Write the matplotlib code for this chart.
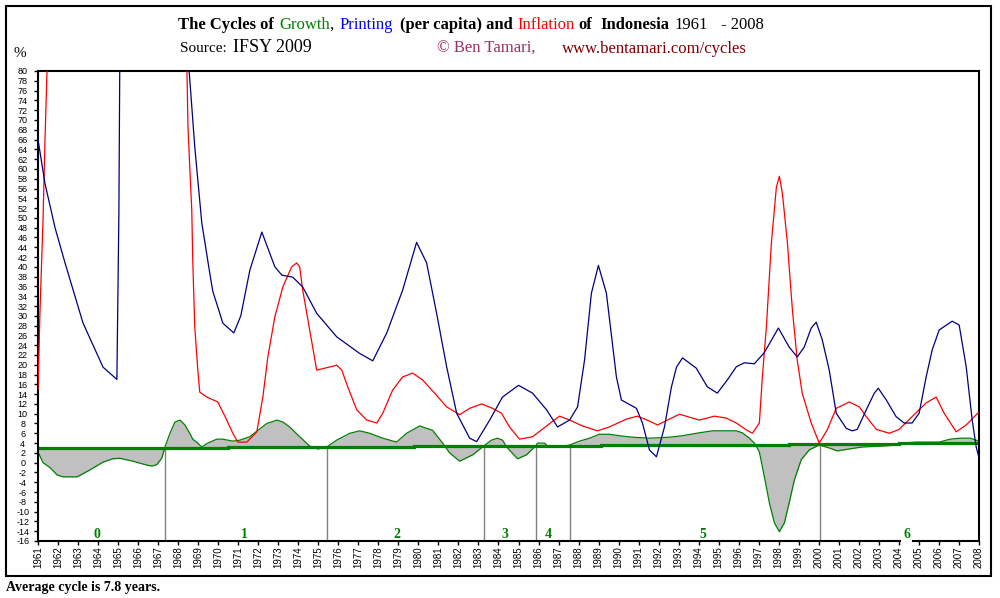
import numpy as np
import matplotlib
matplotlib.use("Agg")
import matplotlib.pyplot as plt
from matplotlib.patches import Rectangle

# Printing (money per capita), % -- values above 80 are off the chart
blue_x = [1961.00, 1961.35, 1961.85, 1962.35, 1963.25, 1964.25, 1964.94, 1965.04, 1965.09,
          1965.5, 1966.5, 1967.5, 1968.2, 1968.55, 1968.83, 1969.18, 1969.58, 1969.73,
          1970.08, 1970.23, 1970.78, 1971.13, 1971.58, 1972.18, 1972.83, 1973.18, 1973.72,
          1974.22, 1974.92, 1975.92, 1977.07, 1977.72, 1978.42, 1979.21, 1979.91, 1980.41,
          1980.91, 1981.41, 1981.91, 1982.56, 1982.91, 1983.56, 1984.20, 1985.00, 1985.70,
          1986.40, 1986.95, 1987.55, 1987.95, 1988.30, 1988.64, 1988.99, 1989.39, 1989.89,
          1990.14, 1990.89, 1991.19, 1991.54, 1991.89, 1992.29, 1992.64, 1992.89, 1993.19,
          1993.88, 1994.43, 1994.93, 1995.43, 1995.88, 1996.28, 1996.78, 1997.28, 1997.98,
          1998.52, 1998.92, 1999.27, 1999.62, 1999.87, 2000.17, 2000.52, 2000.87, 2001.37,
          2001.67, 2001.92, 2002.37, 2002.77, 2002.97, 2003.37, 2003.86, 2004.26, 2004.66,
          2005.01, 2005.36, 2005.66, 2006.01, 2006.66, 2007.01, 2007.36, 2007.66, 2007.86,
          2008.00]
blue_y = [66, 57, 48, 40.8, 28.5, 19.5, 17, 51, 85,
          200, 300, 250, 120, 80, 64.5, 49, 38.7, 35,
          30.5, 28.5, 26.5, 30, 39.3, 47.1, 40, 38.3, 37.9,
          35.9, 30.5, 25.7, 22.3, 20.8, 26.5, 35.2, 45, 40.8,
          30.5, 19.6, 10.1, 5.0, 4.3, 8.7, 13.4, 15.8, 14.2,
          10.8, 7.3, 8.7, 11.4, 21, 34.6, 40.3, 34.6, 17.5,
          12.8, 11.1, 8.1, 2.6, 1.2, 7.3, 15.5, 19.5, 21.4,
          19.3, 15.5, 14.2, 16.9, 19.6, 20.4, 20.2, 22.5, 27.5,
          23.6, 21.6, 23.6, 27.5, 28.7, 25.1, 18.9, 10.1, 7.0,
          6.5, 6.8, 10.8, 14.2, 15.2, 12.8, 9.4, 8.1, 8.1,
          10.1, 17.5, 23, 27.1, 28.9, 28.1, 19.6, 8.7, 3.2,
          1.0]

# Inflation, %
red_x = [1961.00, 1961.10, 1961.25, 1961.35, 1961.45, 1962, 1963, 1964, 1965, 1966, 1967,
         1968, 1968.44, 1968.49, 1968.58, 1968.68, 1968.73, 1968.83, 1968.98, 1969.08,
         1969.43, 1969.98, 1970.43, 1970.73, 1970.98, 1971.43, 1971.93, 1972.23, 1972.48,
         1972.83, 1973.23, 1973.67, 1973.92, 1974.07, 1974.22, 1974.57, 1974.92, 1975.32,
         1975.92, 1976.17, 1976.47, 1976.92, 1977.42, 1977.92, 1978.22, 1978.71, 1979.21,
         1979.71, 1980.21, 1980.81, 1981.41, 1982.06, 1982.56, 1983.16, 1983.70, 1984.15,
         1984.55, 1985.05, 1985.70, 1986.15, 1986.65, 1987.05, 1987.55, 1988.20, 1988.94,
         1989.54, 1990.39, 1990.94, 1991.54, 1991.94, 1992.44, 1993.04, 1993.53, 1994.03,
         1994.78, 1995.38, 1995.88, 1996.38, 1996.68, 1997.03, 1997.18, 1997.38, 1997.63,
         1997.88, 1998.03, 1998.18, 1998.43, 1998.68, 1998.92, 1999.17, 1999.62, 2000.02,
         2000.42, 2000.87, 2001.52, 2002.02, 2002.37, 2002.87, 2003.52, 2004.01, 2004.66,
         2005.36, 2005.86, 2006.26, 2006.86, 2007.36, 2007.91, 2008.00]
red_y = [15, 31, 49.5, 66, 80, 110, 150, 300, 600, 1000, 200,
         120, 80, 68.6, 60.4, 51.6, 41.3, 27.7, 19, 14.4,
         13.4, 12.4, 8.7, 6.0, 4.2, 4.2, 6.3, 13.4, 21.6,
         29.8, 35.9, 40, 40.8, 40, 35.3, 27.1, 18.9, 19.3,
         19.9, 18.9, 15.5, 10.8, 8.7, 8.1, 10.1, 14.8, 17.5,
         18.3, 16.9, 14.2, 11.4, 9.8, 11.1, 12, 11.1, 10.1,
         7.3, 4.8, 5.3, 6.7, 8.3, 9.5, 8.7, 7.5, 6.5,
         7.3, 8.9, 9.5, 8.5, 7.7, 8.7, 9.9, 9.3, 8.7,
         9.5, 9.1, 8.1, 6.7, 6.0, 8.1, 17.5, 27.7, 44.9,
         56.3, 58.5, 55, 44.9, 31.2, 21, 14.2, 8.1, 4.0,
         6.7, 11.1, 12.4, 11.4, 9.4, 6.8, 6.0, 6.8, 9.4,
         12.2, 13.4, 10.1, 6.3, 7.7, 10.0, 10.2]

# Growth, %
green_x = [1961.00, 1961.25, 1961.60, 1961.95, 1962.25, 1962.95, 1963.59, 1964.24, 1964.74,
           1965.09, 1965.74, 1966.44, 1966.69, 1966.94, 1967.19, 1967.34, 1967.59, 1967.84,
           1968.09, 1968.34, 1968.58, 1968.73, 1968.98, 1969.18, 1969.48, 1969.93, 1970.23,
           1970.73, 1971.08, 1971.58, 1971.98, 1972.43, 1972.93, 1973.23, 1973.57, 1974.07,
           1974.57, 1974.97, 1975.42, 1975.92, 1976.57, 1977.07, 1977.57, 1978.22, 1978.91,
           1979.41, 1980.06, 1980.71, 1981.21, 1981.56, 1982.06, 1982.71, 1983.26, 1983.65,
           1983.95, 1984.20, 1984.45, 1984.95, 1985.40, 1985.85, 1985.95, 1986.30, 1986.45,
           1986.95, 1987.55, 1988.05, 1988.55, 1989.04, 1989.54, 1990.04, 1990.69, 1991.54,
           1992.54, 1993.19, 1994.03, 1994.68, 1995.88, 1996.18, 1996.53, 1996.78, 1997.03,
           1997.28, 1997.53, 1997.78, 1998.03, 1998.28, 1998.52, 1998.78, 1999.12, 1999.52,
           2000.02, 2000.52, 2000.92, 2001.52, 2002.17, 2003.17, 2004.01, 2004.16, 2004.86,
           2006.01, 2006.56, 2007.06, 2007.56, 2008.00]
green_y = [2.2, 0, -1, -2.5, -2.9, -2.9, -1.5, 0.1, 0.8,
           0.9, 0.3, -0.5, -0.7, -0.4, 1, 3.2, 6, 8.3,
           8.7, 7.7, 6, 4.8, 4, 3.2, 4, 4.8, 4.8,
           4.4, 4.6, 5.3, 6.6, 8.0, 8.7, 8.3, 7.3, 5.3,
           3.4, 2.8, 3.2, 4.6, 6.0, 6.5, 6.0, 5.0, 4.2,
           6.0, 7.5, 6.6, 4.0, 2.0, 0.3, 1.6, 3.4, 4.6,
           5.0, 4.6, 3.0, 0.8, 1.6, 3.4, 4.0, 4.0, 3.4,
           3.2, 3.6, 4.4, 5.0, 5.8, 5.8, 5.5, 5.2, 5.0,
           5.2, 5.5, 6.1, 6.5, 6.5, 6.1, 5.0, 4.0, 2.2,
           -2.9, -8.2, -12.3, -14.1, -12.3, -8.2, -3.5, 0.6, 2.6,
           3.6, 3.0, 2.4, 2.8, 3.2, 3.4, 3.6, 4.0, 4.2,
           4.2, 4.8, 5.0, 5.0, 4.4]

# long run growth trend (steps)
trend_edges = [1961, 1970.5, 1979.8, 1989.1, 1998.5, 2004.0, 2008]
trend_vals = [3.0, 3.25, 3.5, 3.7, 3.9, 4.05]

# cycle boundaries and labels
cycle_ends = [1967.35, 1975.43, 1983.27, 1985.87, 1987.56, 2000.05]
cycle_mid = [1963.95, 1971.33, 1978.9, 1984.3, 1986.5, 1994.2, 2004.4]
cycle_names = ["0", "1", "2", "3", "4", "5", "6"]

years = list(range(1961, 2009))
yticks = list(range(-16, 81, 2))


def trend_at(x):
    i = np.searchsorted(trend_edges, x, side="right") - 1
    i = np.clip(i, 0, len(trend_vals) - 1)
    return np.array(trend_vals)[i]


W, H = 1000, 598
fig = plt.figure(figsize=(W / 100, H / 100), dpi=100)
ax = fig.add_axes([38 / W, 1 - 541 / H, (979 - 38) / W, (541 - 71) / H])

gx = np.array(green_x)
gy = np.array(green_y)
ax.fill_between(gx, gy, trend_at(gx), color="#c0c0c0", lw=0, zorder=1)
ax.plot(gx, gy, color="#008000", lw=0.9, zorder=2)
ax.stairs(trend_vals, trend_edges, baseline=None, color="#008000", lw=2.3, zorder=2.2)
ax.vlines(cycle_ends, -16, trend_at(np.array(cycle_ends)), color="#808080", lw=1, zorder=2.1)

ax.plot(red_x, red_y, color="#ff0000", lw=0.9, zorder=3)
ax.plot(blue_x, blue_y, color="#000080", lw=0.9, zorder=3)

for xm, name in zip(cycle_mid, cycle_names):
    kw = {}
    if name == "6":
        kw["bbox"] = dict(facecolor="white", edgecolor="none", pad=1.5)
    ax.text(xm, -14.6, name, ha="center", va="center", color="#008000",
            fontsize=10, fontweight="bold", family="Liberation Serif", zorder=5, **kw)

ax.set_xlim(1961, 2008)
ax.set_ylim(-16, 80)
ax.set_xticks(years)
ax.set_xticklabels([str(y) for y in years], rotation=90, fontsize=7,
                   family="Liberation Sans", va="top")
ax.set_yticks(yticks)
ax.set_yticklabels([str(v) for v in yticks], fontsize=6.5, family="Liberation Sans")
for lab in ax.get_yticklabels():
    lab.set_horizontalalignment("center")
ax.tick_params(axis="x", direction="out", length=3, width=1, pad=1)
ax.tick_params(axis="y", direction="out", length=3, width=1, pad=8)
for s in ax.spines.values():
    s.set_linewidth(1.5)

# outer frame
fig.patches.append(Rectangle((6 / W, 1 - 576 / H), (991 - 6) / W, (576 - 6) / H,
                             transform=fig.transFigure, fill=False, ec="black", lw=1.5))

serif = "Liberation Serif"
# title pieces: (gap before in px, text, colour, weight)
title_parts = [
    (0, "The Cycles of", "black", "bold"),
    (5, "Growth", "#008000", "normal"),
    (0, ",", "black", "normal"),
    (6, "Printing", "#0000ff", "normal"),
    (7, "(per capita) and", "black", "bold"),
    (4, "Inflation", "#ff0000", "normal"),
    (4, "of", "black", "bold"),
    (8, "Indonesia", "black", "bold"),
    (5, "1961", "black", "normal"),
    (14, "- 2008", "black", "normal"),
]
renderer = fig.canvas.get_renderer()
px = 178
for gap, s, c, w in title_parts:
    px += gap
    t = fig.text(px / W, 1 - 29 / H, s, color=c, fontweight=w, fontsize=12,
                 family=serif, va="baseline")
    px += t.get_window_extent(renderer).width

fig.text(180 / W, 1 - 52 / H, "Source:", fontsize=11, family=serif, va="baseline")
fig.text(233 / W, 1 - 52 / H, "IFSY 2009", fontsize=13, family=serif, va="baseline")
fig.text(437 / W, 1 - 53 / H, "\u00a9 Ben Tamari,", fontsize=12, family=serif,
         color="#993366", va="baseline")
fig.text(562 / W, 1 - 53 / H, "www.bentamari.com/cycles", fontsize=12, family=serif,
         color="#800000", va="baseline")
fig.text(13 / W, 1 - 57 / H, "%", fontsize=11, family=serif, va="baseline")
fig.text(6 / W, 1 - 591 / H, "Average cycle is 7.8 years.", fontsize=10,
         fontweight="bold", family=serif, va="baseline")

fig.savefig("out.png", dpi=100)
